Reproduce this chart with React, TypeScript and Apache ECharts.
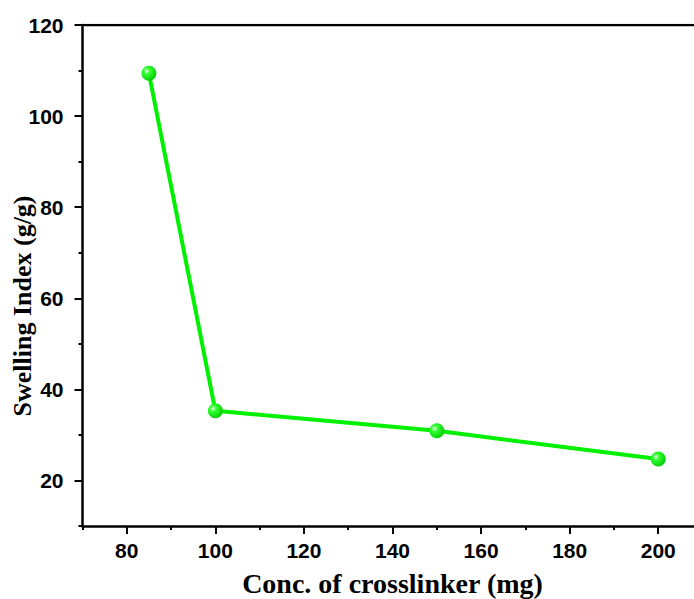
import React, { useEffect, useRef } from "react";
import * as echarts from "echarts";

const xValues = [85, 100, 150, 200];
const swelling = [109.4, 35.3, 30.9, 24.7];
const xTicks = [80, 100, 120, 140, 160, 180, 200];
const xMinorTicks = [70, 90, 110, 130, 150, 170, 190, 210];
const yTicks = [20, 40, 60, 80, 100, 120];
const yMinorTicks = [10, 30, 50, 70, 90, 110];

export default function App() {
  const ref = useRef<HTMLDivElement>(null);
  useEffect(() => {
    document.body.style.margin = "0";
    const chart = echarts.init(ref.current!, null, { renderer: "svg" });
    const axisLine = { show: true, onZero: false, lineStyle: { color: "#000", width: 2.5 } };
    const label = { fontFamily: "Liberation Sans, Arial", fontWeight: "bold" as const, fontSize: 21, color: "#000" };
    const tickStyle = { width: 2, color: "#000" };
    chart.setOption({
      animation: false,
      backgroundColor: "#fff",
      grid: { left: 82.5, top: 25, width: 620, height: 501, containLabel: false, outerBoundsMode: "none" },
      graphic: [
        {
          type: "text",
          x: 22,
          y: 306,
          rotation: Math.PI / 2,
          style: {
            text: "Swelling Index (g/g)",
            fontFamily: "Liberation Serif, Times New Roman",
            fontWeight: "bold",
            fontSize: 26,
            fill: "#000",
            align: "center",
            verticalAlign: "middle",
          },
        },
      ],
      xAxis: [
        {
          type: "value",
          min: 70,
          max: 210,
          position: "bottom",
          axisLine,
          axisTick: { show: true, inside: false, length: 8, lineStyle: tickStyle, customValues: xTicks },
          axisLabel: { ...label, margin: 14, customValues: xTicks },
          splitLine: { show: false },
          name: "Conc. of crosslinker (mg)",
          nameLocation: "middle",
          nameGap: 43,
          nameMoveOverlap: false,
          nameTextStyle: { fontFamily: "Liberation Serif, Times New Roman", fontWeight: "bold", fontSize: 28, color: "#000" },
        },
        {
          type: "value",
          min: 70,
          max: 210,
          position: "bottom",
          axisLine: { show: false },
          axisTick: { show: true, inside: false, length: 4, lineStyle: tickStyle, customValues: xMinorTicks },
          axisLabel: { show: false },
          splitLine: { show: false },
        },
      ],
      yAxis: [
        {
          type: "value",
          min: 10,
          max: 120,
          axisLine,
          axisTick: { show: true, inside: false, length: 8, lineStyle: tickStyle, customValues: yTicks },
          axisLabel: { ...label, margin: 19, customValues: yTicks },
          splitLine: { show: false },
        },
        {
          type: "value",
          min: 10,
          max: 120,
          position: "left",
          axisLine: { show: false },
          axisTick: { show: true, inside: false, length: 4, lineStyle: tickStyle, customValues: yMinorTicks },
          axisLabel: { show: false },
          splitLine: { show: false },
        },
      ],
      series: [
        {
          type: "line",
          data: xValues.map((x, i) => [x, swelling[i]]),
          lineStyle: { color: "#00f000", width: 4 },
          symbol: "circle",
          symbolSize: 15,
          itemStyle: {
            color: new echarts.graphic.RadialGradient(0.35, 0.35, 0.7, [
              { offset: 0, color: "#e8ffe8" },
              { offset: 0.3, color: "#33ff33" },
              { offset: 1, color: "#00cc00" },
            ]),
            borderWidth: 0,
          },
        },
        {
          type: "line",
          data: [[70, 120], [210, 120]],
          symbol: "none",
          lineStyle: { color: "#000", width: 2.5 },
          silent: true,
        },
      ],
    });
    return () => chart.dispose();
  }, []);
  return <div ref={ref} style={{ position: "fixed", left: 0, top: 0, width: 694, height: 599 }} />;
}
